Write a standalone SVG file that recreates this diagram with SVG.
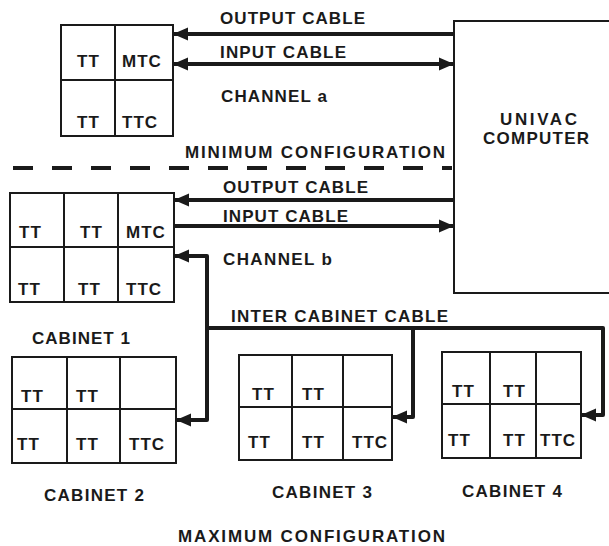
<svg xmlns="http://www.w3.org/2000/svg" width="609" height="546" viewBox="0 0 609 546">
<style>
.box{fill:none;stroke:#1a1a1a;stroke-width:2}
.div{stroke:#1a1a1a;stroke-width:2}
.cab{fill:none;stroke:#1a1a1a;stroke-width:4;stroke-linejoin:round}
.lbl{font-family:"Liberation Sans",Arial,sans-serif;font-weight:bold;font-size:17px;fill:#1a1a1a}
.cell{font-family:"Liberation Sans",Arial,sans-serif;font-weight:bold;font-size:17px;fill:#1a1a1a;letter-spacing:1px}
</style>
<defs>
<marker id="ah" markerUnits="userSpaceOnUse" markerWidth="16" markerHeight="14" refX="15" refY="7" orient="auto-start-reverse" viewBox="0 0 16 14">
<path d="M0,0.5 L15,7 L0,13.5 Z" fill="#1a1a1a"/>
</marker>
</defs>
<rect width="609" height="546" fill="#fff"/>

<g id="univac">
<rect class="box" x="454" y="21" width="175" height="272"/>
<text class="lbl" x="500" y="125" textLength="77" lengthAdjust="spacing">UNIVAC</text>
<text class="lbl" x="483" y="144" textLength="106" lengthAdjust="spacing">COMPUTER</text>
</g>

<g id="channel-a-cabinet">
<rect class="box" x="61" y="25" width="112" height="111"/>
<line class="div" x1="115" y1="25" x2="115" y2="136"/>
<line class="div" x1="61" y1="80" x2="173" y2="80"/>
<text class="cell" x="77" y="67">TT</text>
<text class="cell" x="122" y="67">MTC</text>
<text class="cell" x="77" y="128">TT</text>
<text class="cell" x="122" y="128">TTC</text>
</g>

<g id="cabinet-1">
<rect class="box" x="10" y="193" width="164" height="109"/>
<line class="div" x1="64" y1="193" x2="64" y2="302"/>
<line class="div" x1="118" y1="193" x2="118" y2="302"/>
<line class="div" x1="10" y1="247" x2="174" y2="247"/>
<text class="cell" x="19" y="238">TT</text>
<text class="cell" x="80" y="238">TT</text>
<text class="cell" x="126" y="238">MTC</text>
<text class="cell" x="18" y="295">TT</text>
<text class="cell" x="78" y="295">TT</text>
<text class="cell" x="126" y="295">TTC</text>
</g>

<g id="cabinet-2">
<rect class="box" x="12" y="357" width="164" height="106"/>
<line class="div" x1="67" y1="357" x2="67" y2="463"/>
<line class="div" x1="120" y1="357" x2="120" y2="463"/>
<line class="div" x1="12" y1="409" x2="176" y2="409"/>
<text class="cell" x="21" y="402">TT</text>
<text class="cell" x="76" y="402">TT</text>
<text class="cell" x="17" y="450">TT</text>
<text class="cell" x="76" y="450">TT</text>
<text class="cell" x="129" y="450">TTC</text>
</g>

<g id="cabinet-3">
<rect class="box" x="239" y="355" width="153" height="105"/>
<line class="div" x1="292" y1="355" x2="292" y2="460"/>
<line class="div" x1="343" y1="355" x2="343" y2="460"/>
<line class="div" x1="239" y1="407" x2="392" y2="407"/>
<text class="cell" x="252" y="400">TT</text>
<text class="cell" x="302" y="400">TT</text>
<text class="cell" x="248" y="448">TT</text>
<text class="cell" x="302" y="448">TT</text>
<text class="cell" x="352" y="448">TTC</text>
</g>

<g id="cabinet-4">
<rect class="box" x="442" y="352" width="139" height="106"/>
<line class="div" x1="490" y1="352" x2="490" y2="458"/>
<line class="div" x1="536" y1="352" x2="536" y2="458"/>
<line class="div" x1="442" y1="404" x2="581" y2="404"/>
<text class="cell" x="452" y="397">TT</text>
<text class="cell" x="503" y="397">TT</text>
<text class="cell" x="448" y="446">TT</text>
<text class="cell" x="503" y="446">TT</text>
<text class="cell" x="540" y="446" letter-spacing="0">TTC</text>
</g>

<g id="connectors">
<line class="cab" x1="454" y1="34" x2="173" y2="34" marker-end="url(#ah)"/>
<line class="cab" x1="173" y1="64" x2="454" y2="64" marker-start="url(#ah)" marker-end="url(#ah)"/>
<line class="cab" x1="454" y1="200" x2="174" y2="200" marker-end="url(#ah)"/>
<line class="cab" x1="174" y1="226" x2="454" y2="226" marker-end="url(#ah)"/>
<polyline class="cab" points="174,256 207,256 207,420 176,420" marker-start="url(#ah)" marker-end="url(#ah)"/>
<polyline class="cab" points="207,328 603,328 603,415 581,415" marker-end="url(#ah)"/>
<polyline class="cab" points="413,328 413,417 392,417" marker-end="url(#ah)"/>
<line x1="13" y1="168" x2="452" y2="168" stroke="#1a1a1a" stroke-width="4" stroke-dasharray="20 19"/>
</g>

<g id="labels">
<text class="lbl" x="220" y="24" textLength="145" lengthAdjust="spacing">OUTPUT CABLE</text>
<text class="lbl" x="220" y="58" textLength="126" lengthAdjust="spacing">INPUT CABLE</text>
<text class="lbl" x="221" y="102" textLength="106" lengthAdjust="spacing">CHANNEL a</text>
<text class="lbl" x="185" y="158" textLength="260" lengthAdjust="spacing">MINIMUM CONFIGURATION</text>
<text class="lbl" x="223" y="193" textLength="145" lengthAdjust="spacing">OUTPUT CABLE</text>
<text class="lbl" x="223" y="222" textLength="125" lengthAdjust="spacing">INPUT CABLE</text>
<text class="lbl" x="223" y="265" textLength="109" lengthAdjust="spacing">CHANNEL b</text>
<text class="lbl" x="231" y="322" textLength="217" lengthAdjust="spacing">INTER CABINET CABLE</text>
<text class="lbl" x="32" y="344" textLength="98" lengthAdjust="spacing">CABINET 1</text>
<text class="lbl" x="44" y="501" textLength="100" lengthAdjust="spacing">CABINET 2</text>
<text class="lbl" x="272" y="498" textLength="100" lengthAdjust="spacing">CABINET 3</text>
<text class="lbl" x="462" y="497" textLength="100" lengthAdjust="spacing">CABINET 4</text>
<text class="lbl" x="178" y="542" textLength="267" lengthAdjust="spacing">MAXIMUM CONFIGURATION</text>
</g>
</svg>
